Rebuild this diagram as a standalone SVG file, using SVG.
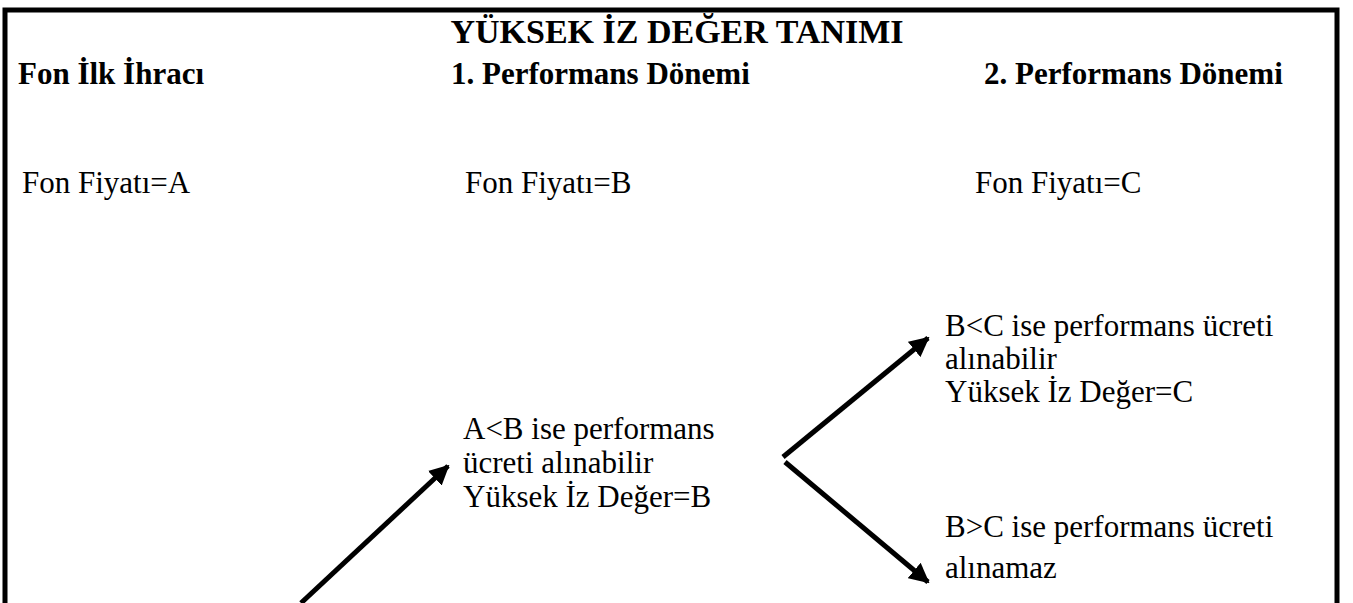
<svg xmlns="http://www.w3.org/2000/svg" width="1353" height="603" viewBox="0 0 1353 603">
<defs>
<style>
text{font-family:"Liberation Serif","Times New Roman",serif;fill:#000;font-size:31px}
.b{font-weight:bold}
.t{font-size:34px;text-anchor:middle}
.ln{stroke:#000;stroke-width:5;fill:none}
</style>
<marker id="ah" viewBox="0 0 10 10" refX="9" refY="5" markerWidth="4" markerHeight="4" orient="auto" markerUnits="strokeWidth">
<path d="M0,0 L10,5 L0,10 z" fill="#000"/>
</marker>
</defs>
<rect width="1353" height="603" fill="#fff"/>
<g id="frame">
<path class="ln" d="M5,603 V10 H1337 V603"/>
</g>
<g id="header">
<text class="b t" x="677" y="43">YÜKSEK İZ DEĞER TANIMI</text>
</g>
<g id="col1">
<text class="b" x="18" y="84">Fon İlk İhracı</text>
<text x="22" y="193">Fon Fiyatı=A</text>
</g>
<g id="col2">
<text class="b" y="84"><tspan x="451">1.</tspan><tspan x="482">Performans Dönemi</tspan></text>
<text x="465" y="193">Fon Fiyatı=B</text>
</g>
<g id="col3">
<text class="b" y="84"><tspan x="984">2.</tspan><tspan x="1015">Performans Dönemi</tspan></text>
<text x="975" y="193">Fon Fiyatı=C</text>
</g>
<g id="nodeAB">
<text x="463" y="439">A&lt;B ise performans</text>
<text x="463" y="473">ücreti alınabilir</text>
<text x="463" y="507">Yüksek İz Değer=B</text>
</g>
<g id="nodeBC_up">
<text x="945" y="336">B&lt;C ise performans ücreti</text>
<text x="945" y="369">alınabilir</text>
<text x="945" y="402">Yüksek İz Değer=C</text>
</g>
<g id="nodeBC_down">
<text x="945" y="537">B&gt;C ise performans ücreti</text>
<text x="945" y="578">alınamaz</text>
</g>
<g id="connectors">
<line class="ln" x1="301" y1="603" x2="448" y2="466" marker-end="url(#ah)"/>
<line class="ln" x1="783" y1="457" x2="928" y2="338" marker-end="url(#ah)"/>
<line class="ln" x1="785" y1="462" x2="928" y2="582" marker-end="url(#ah)"/>
</g>
</svg>
